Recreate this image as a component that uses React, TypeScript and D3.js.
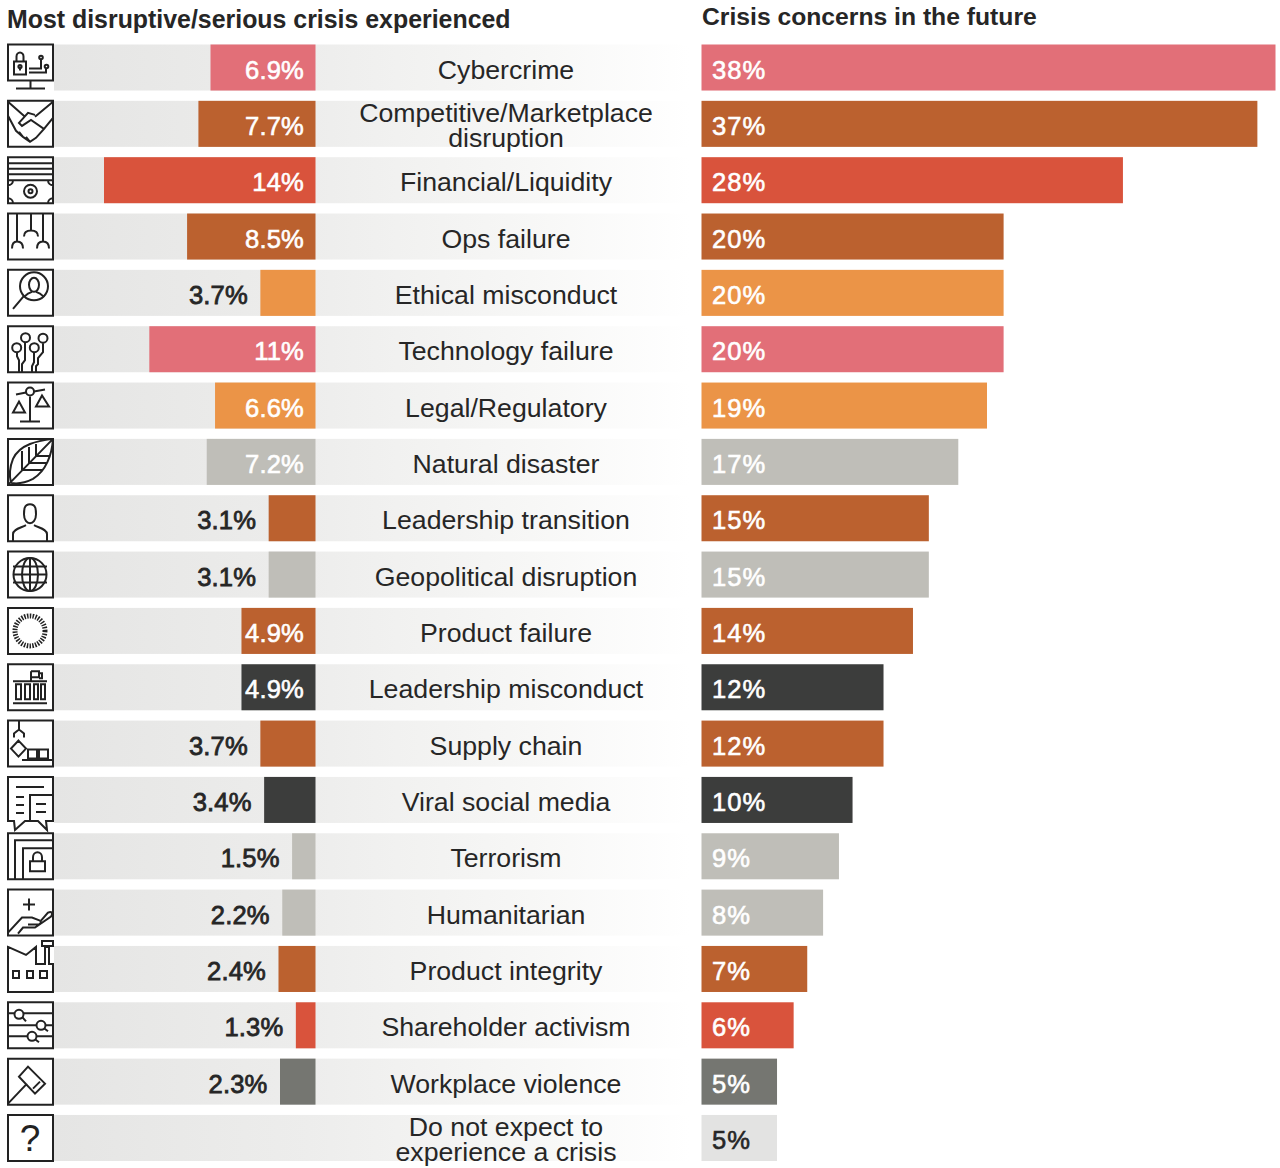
import React from "react";
import * as d3 from "d3";

const categories = [
  ["Cybercrime"],
  ["Competitive/Marketplace", "disruption"],
  ["Financial/Liquidity"],
  ["Ops failure"],
  ["Ethical misconduct"],
  ["Technology failure"],
  ["Legal/Regulatory"],
  ["Natural disaster"],
  ["Leadership transition"],
  ["Geopolitical disruption"],
  ["Product failure"],
  ["Leadership misconduct"],
  ["Supply chain"],
  ["Viral social media"],
  ["Terrorism"],
  ["Humanitarian"],
  ["Product integrity"],
  ["Shareholder activism"],
  ["Workplace violence"],
  ["Do not expect to", "experience a crisis"],
];
const experienced = [6.95, 7.75, 14, 8.5, 3.65, 11, 6.65, 7.2, 3.1, 3.1, 4.9, 4.9, 3.65, 3.4, 1.55, 2.2, 2.45, 1.3, 2.35, null];
const experiencedLabels = ["6.9%", "7.7%", "14%", "8.5%", "3.7%", "11%", "6.6%", "7.2%", "3.1%", "3.1%", "4.9%", "4.9%", "3.7%", "3.4%", "1.5%", "2.2%", "2.4%", "1.3%", "2.3%", ""];
const future = [38, 36.8, 27.9, 20, 20, 20, 18.9, 17, 15.05, 15.05, 14, 12.05, 12.05, 10, 9.1, 8.05, 7, 6.1, 5, 5];
const futureLabels = ["38%", "37%", "28%", "20%", "20%", "20%", "19%", "17%", "15%", "15%", "14%", "12%", "12%", "10%", "9%", "8%", "7%", "6%", "5%", "5%"];

const PINK = "#e26f78", BROWN = "#bb612f", RED = "#d9533c", ORANGE = "#eb9447", STONE = "#bfbeb8", DARK = "#3c3d3c", SLATE = "#757671", PALE = "#e3e3e2";
const colors = [PINK, BROWN, RED, BROWN, ORANGE, PINK, ORANGE, STONE, BROWN, STONE, BROWN, DARK, BROWN, DARK, STONE, STONE, BROWN, RED, SLATE, PALE];

const FONT = "'Liberation Sans', Arial, sans-serif";
const INK = "#262626";

const y = d3.scaleBand<number>().domain(d3.range(20)).range([44.5, 1161]).paddingInner(10.3 / 56.3).paddingOuter(0);
const scaleLeft = d3.scaleLinear().domain([0, 14]).range([315.5, 104]);
const scaleRight = d3.scaleLinear().domain([0, 38]).range([701.5, 1275.5]);

// Pictograms, each in a 46 x 46 box
const box = "M0 0H45V46H0Z";
const icons: string[] = [
  "M0 0H45V36H0Z M22.5 36V44 M8 44H37 M6 17H18V30H6Z M8.5 17V12A3.5 4 0 0 1 15.5 12V17 M12 22V26 M21 24H33V15 M21 28H38V24",
  box + " M0 1L17 16 M45 1L27 16 M27 14L20 12L11 22L14 25L23 19L36 28L28 37L22 41L15 36L8 30L0 15 M45 17L36 28 M15 36L11 31 M22 41L18 36",
  box + " M0 6H45 M0 11.5H45 M0 17H45 M0 23H45 M5 23A5 5 0 0 1 0 28 M40 23A5 5 0 0 0 45 28 M0 41A5 5 0 0 1 5 46 M45 41A5 5 0 0 0 40 46",
  box + " M9 0V28 M23 0V17 M35 0V28 M23 17Q16 17 16 23 M23 17Q30 17 30 23 M9 28Q4 28 4 35 M9 28Q15 28 15 35 M35 28Q29 28 29 35 M35 28Q41 28 41 35",
  box + " M5 39L16 26 M21 15A5 7 0 1 1 31 15A5 7 0 1 1 21 15 M16 27Q20 23 24 22 M36 27Q32 23 28 22",
  box + " M17 16V34L14 38V45 M9 26V30L11 34V45 M26 26V36L24 40V45 M35 17V26L30 32V38L28 40V45",
  box + " M8 12L18 10 M26 9L37 7 M22 14V38 M12 39H32 M5 30L11 19L17 30Z M28 24L34 13L41 24Z",
  box + " M0 46L45 0 M45 0C30 2 12 5 5 20C1 30 2 40 3 44 M45 0C44 16 38 32 25 40C15 45 8 45 3 44 M14 31V12 M21 24V8 M28 17V5 M14 31H34 M21 24H39 M28 17H42",
  box + " M22 9C28 9 28 15 28 19C28 25 25 28 22 28C19 28 16 25 16 19C16 15 16 9 22 9 M5 45V39C5 34 12 33 18 30 M39 45V39C39 34 32 33 26 30",
  box + " M5 15H39 M5 31H39 M5.5 23H38.5 M22 6V40",
  box,
  box + " M5 17H39 M5 39H39 M23 17V7 M23 7H31V13H23 M31 9H34V14H31 M8 20H13V35H8Z M17 20H22V35H17Z M26 20H30V35H26Z M33 20H37V35H33Z",
  "M0 0H45V46H0Z M11 0V9 M11 9L6 13V17 M11 9L16 13V17 M10.5 20L18 28L10.5 36L3 28Z M20 29H29V38H20Z M31 29H40V38H31Z M14 39.5H45",
  "M45 18V0H0V44H6L7 53L17 44H22 M8 10H36 M8 20H16 M8 28H16 M8 36H16 M22 18H45V44H38L39 53L30 44H22Z M28 27H38 M28 35H38",
  box + " M7 46V7H45 M15 46V15H45 M22 28H37V38H22Z M25 28V24A4.5 5 0 0 1 34 24V28",
  box + " M21 9V21 M15 15H27 M0 43L14 28H24L32 31 M33 31L40 23C44 21 45 24 43 27L27 38H15L10 44 M32 31C34 33 32 35 29 35H20",
  "M0 1L18 9L28 1V18H37V1H41V18H45V46H0Z M34 -5H45V0H34Z M5 25H11V32H5Z M19 25H25V32H19Z M32 25H39V32H32Z",
  box + " M0 11H45 M0 23H45 M0 34H45 M14.5 15L18 19 M36 26L40 29 M27 37L31 40",
  box + " M0 45L19 25 M11 18L20 8L37 25L27 35Z M32 23L25 30",
  box,
];
const circlesByIcon: Record<number, [number, number, number][]> = {
  0: [[33, 13, 1.8], [38.5, 22, 1.8], [12, 22, 1.6]],
  2: [[22.5, 34, 6.5], [22.5, 34, 2]],
  4: [[26, 16.5, 14]],
  5: [[17.5, 11.5, 4.5], [35, 12, 4.5], [8.7, 21.5, 4.5], [26.3, 21.5, 4.5]],
  6: [[22, 9, 4]],
  9: [[22, 23, 16.5]],
  17: [[11, 12, 4.5], [33, 23, 4.5], [24, 34, 4.5]],
};
const whiteFilled = new Set([6, 17]);

function Icon({ index, top }: { index: number; top: number }) {
  return (
    <g transform={`translate(8,${top})`} fill="none" stroke="#222" strokeWidth={2}>
      <path d={icons[index]} />
      {(circlesByIcon[index] ?? []).map((c, i) => (
        <circle key={i} cx={c[0]} cy={c[1]} r={c[2]} fill={whiteFilled.has(index) ? "#fff" : "none"} />
      ))}
      {index === 9 && <ellipse cx={22} cy={23} rx={8} ry={16.5} />}
      {index === 10 && <circle cx={22} cy={23} r={15} strokeWidth={5} strokeDasharray="1.5 1.3" />}
      {index === 19 && (
        <text x={22} y={36} textAnchor="middle" fontFamily={FONT} fontSize={37} fill="#222" stroke="none">?</text>
      )}
    </g>
  );
}

export default function App() {
  const rows = d3.range(20);
  return (
    <svg width={1280} height={1168} viewBox="0 0 1280 1168" style={{ position: "absolute", left: 0, top: 0 }}>
      <defs>
        <linearGradient id="rowFade" x1="0" x2="1" y1="0" y2="0">
          <stop offset="0" stopColor="#e5e5e4" />
          <stop offset="0.4" stopColor="#ededec" />
          <stop offset="0.75" stopColor="#f7f7f6" />
          <stop offset="1" stopColor="#ffffff" />
        </linearGradient>
      </defs>
      <rect width={1280} height={1168} fill="#fff" />
      <text x={7} y={27.5} fontFamily={FONT} fontSize={24.9} fontWeight={700} fill={INK}>Most disruptive/serious crisis experienced</text>
      <text x={702} y={24.5} fontFamily={FONT} fontSize={24.7} fontWeight={700} fill={INK}>Crisis concerns in the future</text>
      {rows.map((i) => {
        const top = y(i)!;
        const h = y.bandwidth();
        const base = top + 34;
        const v = experienced[i];
        const lx = v == null ? 0 : scaleLeft(v);
        const inside = v != null && v >= 4;
        const lines = categories[i];
        const leftFill = inside ? "#fff" : INK;
        const rightFill = i === 19 ? INK : "#fff";
        return (
          <g key={i}>
            <rect x={54} y={top} width={636} height={h} fill="url(#rowFade)" />
            {v != null && <rect x={lx} y={top} width={scaleLeft(0) - lx} height={h} fill={colors[i]} />}
            {v != null && (
              <text
                x={inside ? 304 : lx - 12.5}
                y={base}
                textAnchor="end"
                fontFamily={FONT}
                fontSize={25.6}
                letterSpacing={0.15}
                fill={leftFill}
                stroke={leftFill}
                strokeWidth={inside ? 0.6 : 0.8}
              >
                {experiencedLabels[i]}
              </text>
            )}
            <Icon index={i} top={top} />
            {lines.length === 1 ? (
              <text x={506} y={base} textAnchor="middle" fontFamily={FONT} fontSize={26.7} fill={INK}>{lines[0]}</text>
            ) : (
              lines.map((l, k) => (
                <text key={k} x={506} y={top + 21.5 + k * 25} textAnchor="middle" fontFamily={FONT} fontSize={26.7} fill={INK}>{l}</text>
              ))
            )}
            <rect x={scaleRight(0)} y={top} width={scaleRight(future[i]) - scaleRight(0)} height={h} fill={colors[i]} />
            <text x={712} y={base} fontFamily={FONT} fontSize={25.6} letterSpacing={1} fill={rightFill} stroke={rightFill} strokeWidth={0.6}>{futureLabels[i]}</text>
          </g>
        );
      })}
    </svg>
  );
}
